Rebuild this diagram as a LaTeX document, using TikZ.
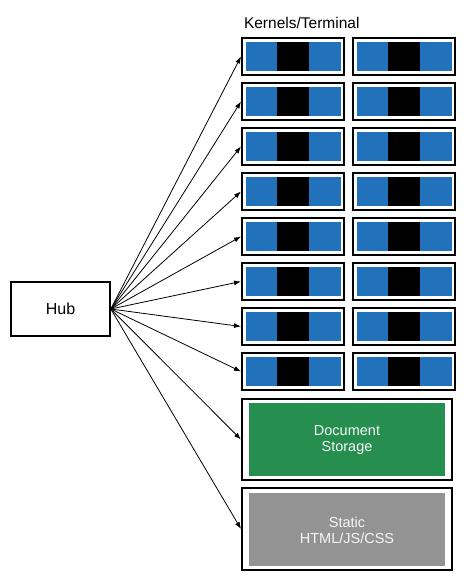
\documentclass[tikz,border=0pt]{standalone}
\usepackage{fontspec}
\setmainfont{Liberation Sans}
\usetikzlibrary{arrows.meta}
\definecolor{kblue}{RGB}{34,113,187}
\definecolor{sgreen}{RGB}{38,143,80}
\definecolor{sgray}{RGB}{147,147,147}
\tikzset{
  kbox/.style={draw=black, line width=2pt, minimum width=102pt, minimum height=37pt, inner sep=0pt},
  bigbox/.style={draw=black, line width=2pt, minimum width=210pt, inner sep=0pt},
  hubbox/.style={draw=black, line width=1.6pt, minimum width=99pt, minimum height=54pt, font=\fontsize{16}{18}\selectfont},
  link/.style={-{Latex[length=7pt,width=5pt]}, line width=0.8pt},
  innertext/.style={text=white!92!gray, align=center, font=\fontsize{14.5}{16}\selectfont}
}
\begin{document}
\begin{tikzpicture}[x=1pt,y=-1pt]
\useasboundingbox (0,0) rectangle (467,581);
\node[anchor=base west, font=\fontsize{15.5}{17}\selectfont] (title) at (240.5,28) {Kernels/Terminal};
\node[hubbox] (hub) at (60.5,309) {Hub};
\foreach \i in {1,...,8}{
  \pgfmathsetmacro{\yc}{56.5+45*(\i-1)}
  \foreach \c/\xc in {a/293,b/404}{
    \fill[kblue] (\xc-47.5,\yc-14.5) rectangle (\xc+47.5,\yc+14.5);
    \fill[black] (\xc-16,\yc-14.5) rectangle (\xc+16,\yc+14.5);
    \node[kbox] (k\i\c) at (\xc,\yc) {};
  }
  \draw[link] (hub.east) -- (k\i a.west);
}
\fill[sgreen] (249,403) rectangle (445,476);
\node[bigbox, minimum height=81pt] (storage) at (347,439.5) {};
\node[innertext] (storagetext) at (347,440) {Document\\Storage};
\fill[sgray] (249,493) rectangle (445,566);
\node[bigbox, minimum height=82pt] (static) at (347,529) {};
\node[innertext] (statictext) at (347,530) {Static\\HTML/JS/CSS};
\draw[link] (hub.east) -- (storage.west);
\draw[link] (hub.east) -- (static.west);
\end{tikzpicture}
\end{document}
